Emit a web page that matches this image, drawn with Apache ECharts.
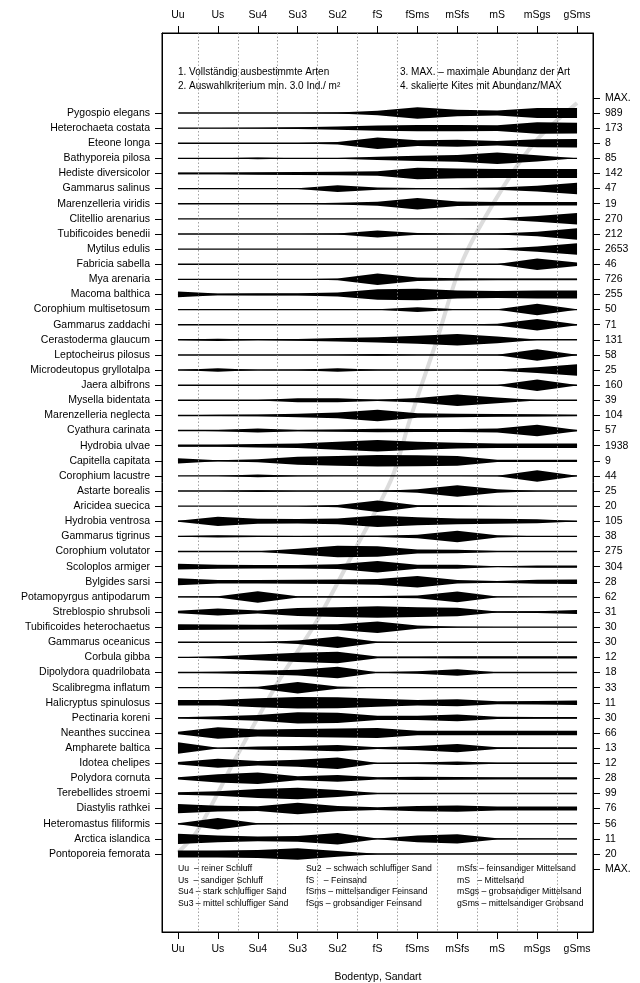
<!DOCTYPE html>
<html>
<head>
<meta charset="utf-8">
<script src="https://cdn.jsdelivr.net/npm/echarts@6/dist/echarts.min.js"></script>
<style>
html,body{margin:0;padding:0;background:#fff;}
#chart{width:640px;height:983px;}
</style>
</head>
<body>
<div id="chart"></div>
<script>
const categories = ['Uu','Us','Su4','Su3','Su2','fS','fSms','mSfs','mS','mSgs','gSms'];

const species = [
 'Pygospio elegans','Heterochaeta costata','Eteone longa','Bathyporeia pilosa','Hediste diversicolor',
 'Gammarus salinus','Marenzelleria viridis','Clitellio arenarius','Tubificoides benedii','Mytilus edulis',
 'Fabricia sabella','Mya arenaria','Macoma balthica','Corophium multisetosum','Gammarus zaddachi',
 'Cerastoderma glaucum','Leptocheirus pilosus','Microdeutopus gryllotalpa','Jaera albifrons','Mysella bidentata',
 'Marenzelleria neglecta','Cyathura carinata','Hydrobia ulvae','Capitella capitata','Corophium lacustre',
 'Astarte borealis','Aricidea suecica','Hydrobia ventrosa','Gammarus tigrinus','Corophium volutator',
 'Scoloplos armiger','Bylgides sarsi','Potamopyrgus antipodarum','Streblospio shrubsoli','Tubificoides heterochaetus',
 'Gammarus oceanicus','Corbula gibba','Dipolydora quadrilobata','Scalibregma inflatum','Halicryptus spinulosus',
 'Pectinaria koreni','Neanthes succinea','Ampharete baltica','Idotea chelipes','Polydora cornuta',
 'Terebellides stroemi','Diastylis rathkei','Heteromastus filiformis','Arctica islandica','Pontoporeia femorata'
];

const maxAbundance = [989,173,8,85,142,47,19,270,212,2653,46,726,255,50,71,131,58,25,160,39,
 104,57,1938,9,44,25,20,105,38,275,304,28,62,31,30,30,12,18,33,11,30,66,13,12,28,99,76,56,11,20];

// relative abundance (Abundanz/MAX) per sediment type, Uu ... gSms
const kites = [
 [0,0,0,0,0.08,0.4,1,0.55,0.45,0.85,0.85],
 [0.03,0.03,0.05,0.15,0.3,0.45,0.55,0.55,0.5,1,0.95],
 [0,0,0,0.05,0.2,1,0.5,0.6,0.4,0.7,0.75],
 [0,0,0.15,0.02,0.08,0.3,0.45,0.6,1,0.55,0],
 [0.15,0.15,0.2,0.25,0.3,0.4,1,0.85,0.8,0.8,0.8],
 [0,0,0,0.05,0.6,0.2,0.1,0.1,0.2,0.5,1],
 [0,0,0,0.02,0.15,0.35,1,0.4,0.3,0.3,0.3],
 [0,0,0,0,0,0,0,0.02,0.1,0.5,1],
 [0,0,0,0,0.1,0.6,0.15,0.05,0.1,0.4,1],
 [0,0,0,0,0,0,0,0,0.05,0.45,1],
 [0,0,0,0,0,0,0,0,0.05,1,0.3],
 [0,0.05,0,0,0.15,1,0.3,0.2,0.15,0.15,0.15],
 [0.5,0.15,0.2,0.2,0.35,0.9,1,0.7,0.6,0.7,0.7],
 [0,0,0,0,0,0.05,0.4,0.05,0.05,1,0.05],
 [0,0,0.05,0.03,0.02,0.02,0.03,0.03,0.15,1,0.1],
 [0.05,0.2,0.05,0.15,0.3,0.45,0.7,1,0.6,0.05,0.05],
 [0,0,0,0,0.03,0.15,0.03,0.02,0.05,1,0.05],
 [0,0.3,0,0.05,0.3,0.05,0.03,0.03,0.1,0.5,1],
 [0,0,0,0,0,0,0,0,0.05,1,0.05],
 [0,0,0.05,0.35,0.35,0.1,0.4,1,0.5,0.05,0.02],
 [0.05,0.1,0.15,0.3,0.5,1,0.4,0.3,0.25,0.2,0.1],
 [0,0.1,0.35,0.1,0.2,0.3,0.25,0.25,0.35,1,0.1],
 [0.2,0.2,0.3,0.4,0.7,1,0.7,0.5,0.4,0.4,0.4],
 [0.45,0.1,0.25,0.7,0.85,1,0.95,0.85,0.2,0.2,0.2],
 [0,0.02,0.25,0.05,0.02,0.02,0.02,0.02,0.05,1,0.05],
 [0,0,0.15,0.02,0.02,0.02,0.3,1,0.3,0.02,0],
 [0,0,0,0,0.2,1,0.15,0.15,0.05,0,0],
 [0.1,0.8,0.45,0.4,0.5,1,0.7,0.5,0.45,0.35,0.05],
 [0.05,0.2,0.1,0.05,0.1,0.1,0.3,1,0.2,0.02,0.02],
 [0,0,0.05,0.5,1,0.9,0.35,0.3,0.1,0.1,0.1],
 [0.5,0.35,0.3,0.3,0.4,1,0.35,0.35,0.05,0.2,0.2],
 [0.6,0.3,0.3,0.35,0.4,0.5,1,0.3,0.15,0.35,0.4],
 [0.05,0.1,1,0.1,0.1,0.15,0.25,0.95,0.05,0.02,0.02],
 [0.2,0.6,0.25,0.7,0.85,1,0.85,0.75,0.1,0.15,0.35],
 [0.5,0.45,0.4,0.45,0.5,1,0.3,0.05,0.02,0.02,0.02],
 [0,0,0,0.3,1,0.1,0,0,0,0,0],
 [0.02,0.2,0.5,0.8,1,0.15,0.15,0.2,0.2,0.2,0.2],
 [0.05,0.15,0.3,0.5,1,0.05,0.2,0.55,0.05,0.02,0.02],
 [0.05,0.05,0.15,1,0.2,0.02,0.02,0.02,0.02,0.02,0.02],
 [0.5,0.5,0.8,1,0.95,0.7,0.5,0.6,0.25,0.3,0.4],
 [0.1,0.3,0.5,1,0.9,0.35,0.35,0.6,0.2,0.15,0.15],
 [0.2,1,0.6,0.7,0.8,0.85,0.4,0.4,0.4,0.4,0.4],
 [1,0.05,0.3,0.35,0.55,0.15,0.35,0.7,0.15,0.1,0.1],
 [0.2,0.8,0.4,0.6,1,0.05,0.15,0.3,0.1,0.1,0.1],
 [0.2,0.7,1,0.35,0.6,0.2,0.3,0.25,0.2,0.2,0.2],
 [0.2,0.4,0.8,1,0.6,0.1,0.1,0.1,0.1,0.1,0.1],
 [0.8,0.5,0.4,1,0.45,0.25,0.45,0.55,0.35,0.35,0.35],
 [0.1,1,0.1,0.05,0.02,0.02,0.02,0.02,0.02,0.02,0.02],
 [0.9,0.6,0.4,0.5,1,0.05,0.6,0.8,0.1,0.05,0.05],
 [0.6,0.6,0.7,1,0.5,0.05,0.02,0.02,0.02,0.02,0.02]
];

// grey trend curve (sediment position vs. species row)
const trendX = [10,8.99,8.15,7.14,6.49,5.81,5.36,4.49,3.48,2.56,1.48,0.48,0];
const trendY = [0.34,2.79,5.9,10.72,16.0,21.3,25.14,29.6,34.6,38.4,43.5,48.5,49.9];

const notesLeft = ['1. Vollständig ausbestimmte Arten','2. Auswahlkriterium min. 3.0 Ind./ m²'];
const notesRight = ['3. MAX. – maximale Abundanz der Art','4. skalierte Kites mit Abundanz/MAX'];
const legendCol1 = ['Uu  – reiner Schluff','Us  – sandiger Schluff','Su4 – stark schluffiger Sand','Su3 – mittel schluffiger Sand'];
const legendCol2 = ['Su2  – schwach schluffiger Sand','fS    – Feinsand','fSms – mittelsandiger Feinsand','fSgs – grobsandiger Feinsand'];
const legendCol3 = ['mSfs – feinsandiger Mittelsand','mS   – Mittelsand','mSgs – grobsandiger Mittelsand','gSms – mittelsandiger Grobsand'];
const xTitle = 'Bodentyp, Sandart';

const FONT = '"Liberation Sans", Arial, Helvetica, sans-serif';
const KITE_SCALE = 0.38;

const chart = echarts.init(document.getElementById('chart'), null, {renderer: 'canvas'});

const catIdx = categories.map((_, i) => i);
const dividers = categories.slice(0, -1).map((_, i) => i + 0.5);
const rowIdx = species.map((_, i) => i + 1);
const rightIdx = [0].concat(rowIdx, [species.length + 1]);

function xAxisDef(pos) {
  return {
    type: 'value', position: pos, min: -0.4, max: 10.4,
    axisLine: {show: true, onZero: false, lineStyle: {color: '#000', width: 1}},
    axisTick: {show: true, customValues: catIdx, length: 7, lineStyle: {color: '#000', width: 1}},
    axisLabel: {show: true, customValues: catIdx, margin: 12, color: '#000', fontSize: 10.5, fontFamily: FONT,
      formatter: v => categories[Math.round(v)]},
    splitLine: {show: false}
  };
}

const graphics = [];
function addText(txt, x, y, size, align) {
  graphics.push({type: 'text', x: x, y: y, silent: true,
    style: {text: txt, fill: '#000', font: size + 'px ' + FONT, textAlign: align || 'left', textVerticalAlign: 'middle'}});
}
notesLeft.forEach((t, i) => addText(t, 178, 72 + i * 14, 10));
notesRight.forEach((t, i) => addText(t, 400, 72 + i * 14, 10));
legendCol1.forEach((t, i) => addText(t, 178, 869 + i * 11.4, 8.7));
legendCol2.forEach((t, i) => addText(t, 306, 869 + i * 11.4, 8.7));
legendCol3.forEach((t, i) => addText(t, 457, 869 + i * 11.4, 8.7));
addText(xTitle, 378, 977, 10.5, 'center');

const option = {
  animation: false,
  backgroundColor: '#fff',
  grid: {left: 162, right: 47, top: 33, bottom: 51, show: true, borderColor: '#000', borderWidth: 1, backgroundColor: 'transparent'},
  xAxis: [xAxisDef('bottom'), xAxisDef('top')],
  yAxis: [
    {type: 'value', position: 'left', inverse: true, min: -4.29, max: 55.16,
      axisLine: {show: true, onZero: false, lineStyle: {color: '#000'}},
      axisTick: {show: true, customValues: rowIdx, length: 7, lineStyle: {color: '#000'}},
      axisLabel: {show: true, customValues: rowIdx, margin: 12, color: '#000', fontSize: 10.5, fontFamily: FONT,
        formatter: v => species[Math.round(v) - 1]},
      splitLine: {show: false}},
    {type: 'value', position: 'right', inverse: true, min: -4.29, max: 55.16,
      axisLine: {show: true, onZero: false, lineStyle: {color: '#000'}},
      axisTick: {show: true, customValues: rightIdx, length: 7, lineStyle: {color: '#000'}},
      axisLabel: {show: true, customValues: rightIdx, margin: 12, color: '#000', fontSize: 10.5, fontFamily: FONT,
        formatter: v => { const r = Math.round(v); return (r === 0 || r === species.length + 1) ? 'MAX.' : String(maxAbundance[r - 1]); }},
      splitLine: {show: false}}
  ],
  graphic: graphics,
  series: [
    {
      type: 'line', xAxisIndex: 0, yAxisIndex: 0, z: 1,
      data: [], silent: true,
      markLine: {silent: true, symbol: ['none', 'none'], label: {show: false},
        lineStyle: {type: [1.5, 2], color: '#8a8a8a', width: 0.8},
        data: dividers.map(d => ({xAxis: d}))}
    },
    {
      type: 'line', xAxisIndex: 0, yAxisIndex: 0, z: 2, silent: true,
      smooth: 0.3, showSymbol: false,
      lineStyle: {color: '#dcdcdc', width: 4},
      data: trendX.map((x, i) => [x, trendY[i]])
    },
    {
      type: 'custom', xAxisIndex: 0, yAxisIndex: 0, z: 3, silent: true,
      data: species.map((s, i) => [i + 1].concat(kites[i])),
      renderItem: function (params, api) {
        const row = api.value(0);
        const top = [], bot = [];
        for (let j = 0; j < categories.length; j++) {
          const v = api.value(j + 1);
          top.push(api.coord([j, row - v * KITE_SCALE]));
          bot.unshift(api.coord([j, row + v * KITE_SCALE]));
        }
        const a = api.coord([0, row]);
        const b = api.coord([categories.length - 1, row]);
        return {
          type: 'group',
          children: [
            {type: 'polygon', shape: {points: top.concat(bot)}, style: {fill: '#000'}},
            {type: 'line', shape: {x1: a[0], y1: a[1], x2: b[0], y2: b[1]}, style: {stroke: '#000', lineWidth: 1.4}}
          ]
        };
      }
    }
  ]
};
chart.setOption(option);
</script>
</body>
</html>
